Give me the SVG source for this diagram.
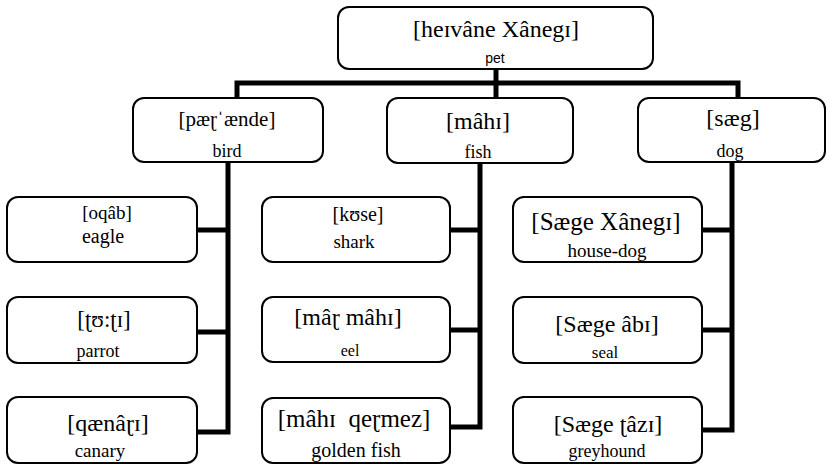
<svg xmlns="http://www.w3.org/2000/svg" width="828" height="466" viewBox="0 0 828 466">
<style>
.box{fill:#fff;stroke:#000;stroke-width:2}
.con{fill:none;stroke:#000;stroke-width:5;stroke-linejoin:miter;stroke-linecap:butt}
text{font-family:"Liberation Serif","DejaVu Serif",serif;fill:#000;text-anchor:middle}
.s{font-family:"Liberation Sans","DejaVu Sans",sans-serif}
</style>
<rect width="828" height="466" fill="#fff"/>
<g id="connectors">
<polyline class="con" points="496,69 496,98"/>
<polyline class="con" points="237,98 237,83 738,83 738,98"/>
<polyline class="con" points="228,162 228,432 197,432"/>
<line class="con" x1="197" y1="230" x2="228" y2="230"/>
<line class="con" x1="197" y1="332" x2="228" y2="332"/>
<polyline class="con" points="480,163 480,427 450,427"/>
<line class="con" x1="450" y1="230" x2="480" y2="230"/>
<line class="con" x1="450" y1="330" x2="480" y2="330"/>
<polyline class="con" points="732,162 732,430 702,430"/>
<line class="con" x1="702" y1="230" x2="732" y2="230"/>
<line class="con" x1="702" y1="330" x2="732" y2="330"/>
</g>
<g id="root">
<rect class="box" x="338" y="7" width="315" height="62" rx="11"/>
<text x="496" y="37" font-size="24">[heɪvâne Xânegɪ]</text>
<text class="s" x="495" y="63" font-size="14">pet</text>
</g>
<g id="bird">
<rect class="box" x="133" y="98" width="190" height="64" rx="11"/>
<text x="227" y="126" font-size="21">[pæɽˈænde]</text>
<text x="227" y="157" font-size="18">bird</text>
</g>
<g id="fish">
<rect class="box" x="387" y="98" width="186" height="65" rx="11"/>
<text x="478" y="129" font-size="24">[mâhɪ]</text>
<text x="478" y="158" font-size="18">fish</text>
</g>
<g id="dog">
<rect class="box" x="638" y="98" width="187" height="64" rx="11"/>
<text x="733" y="126" font-size="24">[sæg]</text>
<text x="730" y="157" font-size="18">dog</text>
</g>
<g id="eagle">
<rect class="box" x="7" y="197" width="190" height="65" rx="11"/>
<text x="107" y="219" font-size="19">[oqâb]</text>
<text x="103" y="243" font-size="20">eagle</text>
</g>
<g id="parrot">
<rect class="box" x="7" y="297" width="190" height="66" rx="11"/>
<text x="104" y="327" font-size="23">[ʈʊ:ʈɪ]</text>
<text x="98" y="357" font-size="18">parrot</text>
</g>
<g id="canary">
<rect class="box" x="7" y="397" width="190" height="66" rx="11"/>
<text x="108" y="431" font-size="24">[qænâɽɪ]</text>
<text x="100" y="457" font-size="19">canary</text>
</g>
<g id="shark">
<rect class="box" x="262" y="197" width="188" height="65" rx="11"/>
<text x="358" y="221" font-size="20">[kʊse]</text>
<text x="354" y="248" font-size="19">shark</text>
</g>
<g id="eel">
<rect class="box" x="262" y="297" width="188" height="65" rx="11"/>
<text x="348" y="325" font-size="24">[mâɽ mâhɪ]</text>
<text x="350" y="356" font-size="16">eel</text>
</g>
<g id="goldenfish">
<rect class="box" x="262" y="398" width="188" height="65" rx="11"/>
<text x="354" y="427" font-size="25" xml:space="preserve" style="white-space:pre">[mâhɪ  qeɽmez]</text>
<text x="356" y="457" font-size="20">golden fish</text>
</g>
<g id="housedog">
<rect class="box" x="513" y="197" width="189" height="65" rx="11"/>
<text x="606" y="230" font-size="25">[Sæge Xânegɪ]</text>
<text x="607" y="257" font-size="19">house-dog</text>
</g>
<g id="seal">
<rect class="box" x="513" y="297" width="189" height="66" rx="11"/>
<text x="607" y="332" font-size="24">[Sæge âbɪ]</text>
<text x="605" y="358" font-size="17">seal</text>
</g>
<g id="greyhound">
<rect class="box" x="513" y="397" width="189" height="66" rx="11"/>
<text x="608" y="432" font-size="24">[Sæge ʈâzɪ]</text>
<text x="607" y="457" font-size="18">greyhound</text>
</g>
</svg>
